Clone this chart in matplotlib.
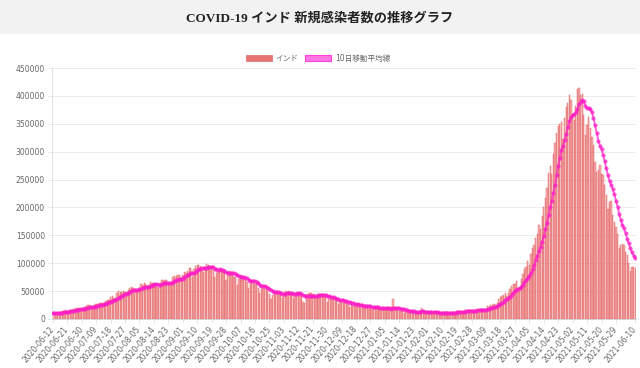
"""
COVID-19 India daily new cases with 10-day moving average
"""

import matplotlib

matplotlib.use("Agg")
import matplotlib.pyplot as plt
import numpy as np
import pandas as pd
from matplotlib.patches import Patch, Rectangle

plt.rcParams["font.family"] = ["DejaVu Sans", "Noto Sans CJK JP"]

# ------------------------------------------------------------------------------------
# Data
# ------------------------------------------------------------------------------------
START_DATE = "2020-06-12"

# nine days before the first bar, only used to seed the moving average
prior_cases = [9304, 9851, 9887, 9971, 9983, 9987, 9985, 10956, 11128]

cases_2020_06 = [11458, 11929, 11502, 10667, 10974, 12881, 13586, 14516, 15413, 14821,
                 14933, 15968, 16922, 17296, 18552, 19906, 19459, 18522, 18653]
cases_2020_07 = [19148, 20903, 22771, 24850, 24248, 22252, 22752, 24879, 26506, 27114,
                 28637, 28701, 28498, 29429, 32695, 34956, 34884, 38902, 40425, 37148,
                 37724, 45720, 49310, 48916, 48661, 49931, 47703, 48513, 52123, 55078,
                 57118]
cases_2020_08 = [54735, 52972, 52050, 52509, 56282, 62538, 61537, 64399, 62064, 53601,
                 60963, 66999, 64553, 65002, 63490, 57981, 55079, 64531, 69652, 68898,
                 69878, 69239, 61408, 60975, 67151, 75760, 77266, 76472, 78761, 78512,
                 69921]
cases_2020_09 = [78357, 83883, 83341, 86432, 90632, 90802, 75809, 89706, 95735, 96551,
                 97570, 94372, 92071, 83809, 90123, 97894, 96424, 93337, 92605, 86961,
                 75083, 83347, 86508, 86052, 85362, 88600, 82170, 70589, 80472, 86821]
cases_2020_10 = [81484, 79476, 75829, 74442, 61267, 72049, 78524, 70496, 73272, 74383,
                 66732, 55342, 63509, 67708, 63371, 62212, 61871, 55722, 46790, 54044,
                 55839, 54366, 53370, 50129, 45148, 36470, 43893, 49881, 48648, 48268,
                 46963]
cases_2020_11 = [45231, 38310, 46253, 50210, 47638, 50356, 45674, 45903, 38073, 44281,
                 47905, 44878, 44684, 41100, 30548, 29163, 38617, 45576, 45882, 46232,
                 45209, 44059, 37975, 44376, 44489, 43082, 41322, 41810, 38772, 31118]
cases_2020_12 = [36604, 35551, 36595, 36652, 36011, 32981, 26567, 32080, 31521, 29398,
                 30006, 30254, 27071, 22065, 26382, 24010, 22890, 25152, 26624, 24337,
                 19556, 23950, 24712, 23067, 22273, 18732, 20021, 16432, 20550, 21822,
                 20035]
cases_2021_01 = [19078, 18177, 16505, 18088, 20346, 18139, 18222, 18645, 16311, 36000,
                 15968, 16946, 15590, 15158, 15144, 13788, 10064, 13823, 15223, 14545,
                 14256, 14849, 13203, 9102, 12689, 11666, 12700, 18855, 13083, 13052,
                 11427]
cases_2021_02 = [8635, 11039, 12899, 12408, 11713, 11649, 12059, 9110, 11067, 12923,
                 9309, 12143, 12194, 11649, 9121, 11610, 12881, 13193, 13993, 14264,
                 14199, 10584, 13742, 16738, 16577, 16488, 16752, 15510]
cases_2021_03 = [12286, 14989, 17407, 16838, 18327, 18711, 18599, 15388, 17921, 22854,
                 23285, 24882, 25320, 26291, 24492, 28903, 35871, 39726, 40953, 43846,
                 46951, 40715, 47262, 53476, 59118, 62258, 62714, 68020, 56211, 53480,
                 72330]
cases_2021_04 = [81466, 89129, 93249, 103558, 96982, 115736, 126789, 131968, 145384, 152879,
                 168912, 161736, 184372, 200739, 217353, 234692, 261500, 273810, 259170, 295041,
                 314835, 332730, 346786, 349691, 352991, 323144, 360960, 379257, 386452, 401993]
cases_2021_05 = [392488, 368147, 357229, 382315, 412262, 414188, 401078, 403738, 366161, 329942,
                 348421, 362727, 343144, 326098, 311170, 281386, 263533, 267334, 276110, 259551,
                 257299, 240842, 222315, 196427, 208921, 211298, 186364, 173790, 165553, 152734,
                 127510]
cases_2021_06 = [132788, 134154, 132364, 120529, 114460, 100636, 86498, 92596, 94052, 91702]

cases = (cases_2020_06 + cases_2020_07 + cases_2020_08 + cases_2020_09 + cases_2020_10
         + cases_2020_11 + cases_2020_12 + cases_2021_01 + cases_2021_02 + cases_2021_03
         + cases_2021_04 + cases_2021_05 + cases_2021_06)

dates = pd.date_range(START_DATE, periods=len(cases), freq="D")
labels = [d.strftime("%Y-%m-%d") for d in dates]

# 10-day trailing moving average
ma10 = pd.Series(prior_cases + cases).rolling(10).mean().to_numpy()[len(prior_cases):]

y_ticks = list(range(0, 450001, 50000))

# ------------------------------------------------------------------------------------
# Plot
# ------------------------------------------------------------------------------------
fig = plt.figure(figsize=(6.4, 3.68), dpi=100)

# header band
fig.patches.append(
    Rectangle((0, 1 - 34 / 368), 1, 34 / 368, transform=fig.transFigure,
              facecolor="#f2f2f2", edgecolor="none", zorder=0)
)
fig.text(0.5, 1 - 18 / 368, "COVID-19 インド 新規感染者数の推移グラフ",
         ha="center", va="center", fontsize=9.5, fontweight="bold", color="#222222",
         family=["Liberation Serif", "Noto Sans CJK JP"])

ax = fig.add_axes([52 / 640, 1 - 319 / 368, 584 / 640, 251 / 368])

x = np.arange(len(cases))
ax.bar(x, cases, width=0.8, color=(235 / 255, 105 / 255, 105 / 255, 0.5),
       edgecolor=(226 / 255, 90 / 255, 90 / 255, 0.85), linewidth=0.35, zorder=2)
ax.plot(x, ma10, color=(1.0, 0.12, 0.78, 0.7), linewidth=1.4, marker="o",
        markersize=2.5, markeredgewidth=0.4, zorder=3)

ax.set_xlim(-0.5, len(cases) - 0.5)
ax.set_ylim(0, 450000)
ax.set_yticks(y_ticks)
ax.set_yticklabels([str(v) for v in y_ticks])

tick_idx = list(range(0, len(cases) - 10, 9)) + [len(cases) - 1]
ax.set_xticks(tick_idx)
ax.set_xticklabels([labels[i] for i in tick_idx], rotation=50, ha="right",
                   va="center", rotation_mode="anchor")

ax.tick_params(axis="both", labelsize=5.5, colors="#666666", length=3, width=0.5,
               color="#dddddd", pad=2)
ax.tick_params(axis="x", pad=3)
ax.grid(axis="y", color="#e8e8e8", linewidth=0.6, zorder=0)
ax.set_axisbelow(True)
for side in ["top", "right"]:
    ax.spines[side].set_visible(False)
ax.spines["left"].set_color("#dddddd")
ax.spines["bottom"].set_color("#cccccc")
ax.spines["left"].set_linewidth(0.6)
ax.spines["bottom"].set_linewidth(0.6)

handles = [
    Patch(facecolor="#e87373", edgecolor="#e06a6a", linewidth=0.5, label="インド"),
    Patch(facecolor="#ff77e4", edgecolor="#ff40dc", linewidth=0.8, label="10日移動平均線"),
]
fig.legend(handles=handles, loc="center", bbox_to_anchor=(318 / 640, 1 - 58 / 368),
           ncol=2, frameon=False, fontsize=5.5, handlelength=3.4, handleheight=0.9,
           handletextpad=0.5, columnspacing=0.9, labelcolor="#666666")

fig.savefig("out.png", dpi=100)
